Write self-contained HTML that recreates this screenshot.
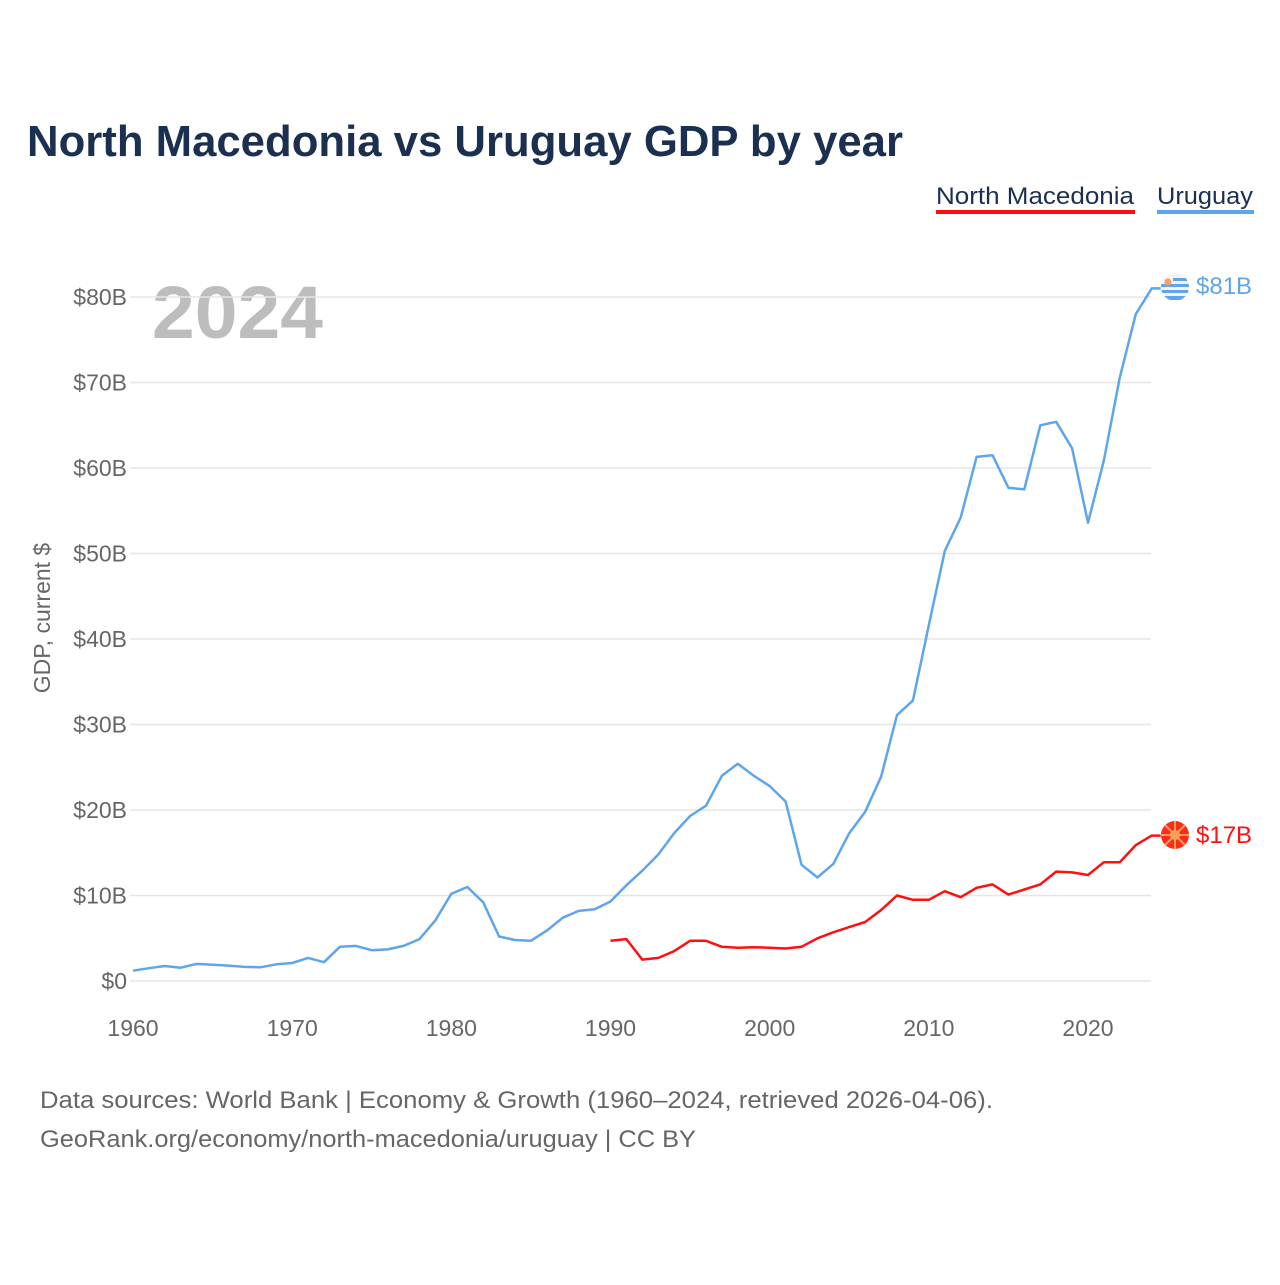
<!DOCTYPE html>
<html><head><meta charset="utf-8">
<style>
body{margin:0;background:#fff;font-family:"Liberation Sans",sans-serif;}
svg text{font-family:"Liberation Sans",sans-serif;}
</style></head>
<body>
<svg width="1280" height="1280" viewBox="0 0 1280 1280">
<defs><clipPath id="uflag"><circle cx="1175" cy="287" r="14"/></clipPath></defs>
<text x="27" y="156" font-size="44" font-weight="bold" fill="#1b3050" textLength="876" lengthAdjust="spacingAndGlyphs">North Macedonia vs Uruguay GDP by year</text>
<g>
<text x="1134" y="204" font-size="24" fill="#1b3050" text-anchor="end" textLength="198" lengthAdjust="spacingAndGlyphs">North Macedonia</text>
<rect x="936" y="210" width="199" height="4" fill="#ff1010"/>
<text x="1253" y="204" font-size="24" fill="#1b3050" text-anchor="end" textLength="96" lengthAdjust="spacingAndGlyphs">Uruguay</text>
<rect x="1157" y="210" width="97" height="4" fill="#5ea5ea"/>
</g>
<text x="152" y="338" font-size="74" font-weight="bold" fill="#bdbdbd" textLength="171" lengthAdjust="spacingAndGlyphs">2024</text>
<g id="grid"></g><g id="yticks"></g><g id="xticks"></g>
<text transform="translate(50,618) rotate(-90)" font-size="23" fill="#666" text-anchor="middle">GDP, current $</text>
<g id="series"></g>
<g>
<g clip-path="url(#uflag)">
<circle cx="1175" cy="287" r="14" fill="#f3f3f3"/>
<rect x="1161" y="278" width="28" height="3" fill="#5ea5ea"/>
<rect x="1161" y="284" width="28" height="3" fill="#5ea5ea"/>
<rect x="1161" y="290" width="28" height="3" fill="#5ea5ea"/>
<rect x="1161" y="296" width="28" height="4" fill="#5ea5ea"/>
<rect x="1161" y="273" width="12" height="11" fill="#f3f3f3"/>
<circle cx="1168" cy="282" r="3.5" fill="#f7a05a"/>
</g>
<text x="1196" y="294" font-size="24" fill="#5ea5ea">$81B</text>
</g>
<g>
<circle cx="1175" cy="835" r="14" fill="#ff2a1a"/>
<circle cx="1175" cy="835" r="5" fill="#f7a05a"/>
<g stroke="#f7a05a" stroke-width="2"><line x1="1161" y1="835" x2="1189" y2="835"/><line x1="1175" y1="821" x2="1175" y2="849"/><line x1="1165" y1="825" x2="1185" y2="845"/><line x1="1185" y1="825" x2="1165" y2="845"/></g>
<text x="1196" y="843" font-size="24" fill="#ff1010">$17B</text>
</g>
<text x="40" y="1108" font-size="24" fill="#666" textLength="953" lengthAdjust="spacingAndGlyphs">Data sources: World Bank | Economy &amp; Growth (1960–2024, retrieved 2026-04-06).</text>
<text x="40" y="1147" font-size="24" fill="#666" textLength="656" lengthAdjust="spacingAndGlyphs">GeoRank.org/economy/north-macedonia/uruguay | CC BY</text>
</svg>
<script>
const uruguayYears = [1960,1961,1962,1963,1964,1965,1966,1967,1968,1969,1970,1971,1972,1973,1974,1975,1976,1977,1978,1979,1980,1981,1982,1983,1984,1985,1986,1987,1988,1989,1990,1991,1992,1993,1994,1995,1996,1997,1998,1999,2000,2001,2002,2003,2004,2005,2006,2007,2008,2009,2010,2011,2012,2013,2014,2015,2016,2017,2018,2019,2020,2021,2022,2023,2024];
const uruguayValues = [1.2,1.5,1.75,1.55,2.0,1.9,1.8,1.65,1.6,1.95,2.1,2.7,2.2,4.0,4.1,3.6,3.7,4.1,4.9,7.1,10.2,11.0,9.2,5.2,4.8,4.7,5.9,7.4,8.2,8.4,9.3,11.2,12.9,14.8,17.3,19.3,20.5,24.0,25.4,24.0,22.8,21.0,13.6,12.1,13.7,17.3,19.8,23.9,31.1,32.8,41.6,50.3,54.2,61.3,61.5,57.7,57.5,65.0,65.4,62.3,53.6,60.9,70.6,78.0,81.0];
const macedoniaYears = [1990,1991,1992,1993,1994,1995,1996,1997,1998,1999,2000,2001,2002,2003,2004,2005,2006,2007,2008,2009,2010,2011,2012,2013,2014,2015,2016,2017,2018,2019,2020,2021,2022,2023,2024];
const macedoniaValues = [4.7,4.9,2.5,2.7,3.5,4.7,4.7,4.0,3.9,3.95,3.9,3.8,4.0,5.0,5.7,6.3,6.9,8.3,10.0,9.5,9.5,10.5,9.8,10.9,11.3,10.1,10.7,11.3,12.8,12.7,12.4,13.9,13.9,15.9,17.0];
const yTicks = [0,10,20,30,40,50,60,70,80];
const yTickLabels = ["$0","$10B","$20B","$30B","$40B","$50B","$60B","$70B","$80B"];
const xTicks = [1960,1970,1980,1990,2000,2010,2020];

const NS="http://www.w3.org/2000/svg";
const xS = y => 133 + (y-1960)*(955/60);
const yS = v => 981 - v*8.55;
function mk(tag, attrs, parent){const e=document.createElementNS(NS,tag);for(const k in attrs)e.setAttribute(k,attrs[k]);parent.appendChild(e);return e;}
const grid=document.getElementById('grid'), yt=document.getElementById('yticks'), xt=document.getElementById('xticks'), ser=document.getElementById('series');
yTicks.forEach((v,i)=>{
  const l=mk('line',{x1:130,x2:1151,y1:yS(v),y2:yS(v),stroke:'#e6e6e6','stroke-width':1.5},grid);
  
  
  const t=mk('text',{x:127,y:yS(v)+8,'font-size':23,fill:'#666','text-anchor':'end'},yt);
  t.textContent=yTickLabels[i];
  
  
});
xTicks.forEach(y=>{
  const t=mk('text',{x:xS(y),y:1036,'font-size':23,fill:'#666','text-anchor':'middle'},xt);
  t.textContent=y;
  
  
});
function line(years, vals, color, name){
  const pts=years.map((y,i)=>xS(y).toFixed(1)+','+yS(vals[i]).toFixed(1));
  const last=years.length-1;
  pts.push((xS(years[last])+9).toFixed(1)+','+yS(vals[last]).toFixed(1));
  const p=mk('polyline',{points:pts.join(' '),fill:'none',stroke:color,'stroke-width':2.5,'stroke-linejoin':'round'},ser);
  
  
}
line(uruguayYears,uruguayValues,'#5ea5ea','uruguay-line');
line(macedoniaYears,macedoniaValues,'#ff1010','north-macedonia-line');
</script>
</body></html>
